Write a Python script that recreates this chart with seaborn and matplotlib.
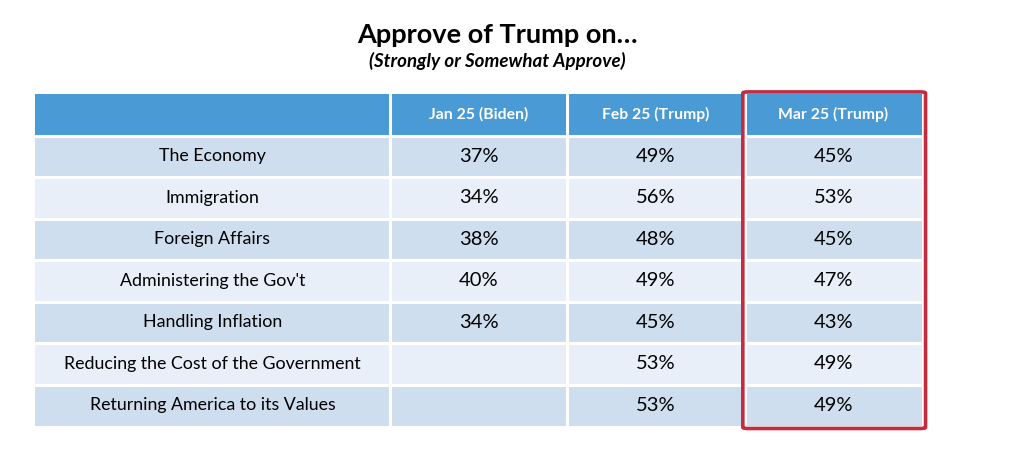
import numpy as np
import matplotlib
matplotlib.use("Agg")
import matplotlib.pyplot as plt
from matplotlib.colors import ListedColormap
from matplotlib.patches import FancyBboxPatch
import seaborn as sns

topics = ["The Economy", "Immigration", "Foreign Affairs", "Administering the Gov't",
          "Handling Inflation", "Reducing the Cost of the Government",
          "Returning America to its Values"]
periods = ["Jan 25 (Biden)", "Feb 25 (Trump)", "Mar 25 (Trump)"]
jan = [37, 34, 38, 40, 34, None, None]
feb = [49, 56, 48, 49, 45, 53, 53]
mar = [45, 53, 45, 47, 43, 49, 49]

sns.set_theme(style="white")
plt.rcParams['font.family'] = ['Lato', 'DejaVu Sans']

header_c = "#4A9BD5"
dark_c = "#CFDEEF"
light_c = "#E9EFF8"

# grid of 8 rows x 5 unit columns (topic column spans two units)
n = len(topics)
colors = np.zeros((n + 1, 5))
colors[0, :] = 2
for i in range(n):
    colors[i + 1, :] = 0 if i % 2 == 0 else 1

fig = plt.figure(figsize=(10.24, 4.54), dpi=100)
ax = fig.add_axes([35 / 1024, 1 - 426 / 454, 887 / 1024, 332 / 454])
sns.heatmap(colors, cmap=ListedColormap([dark_c, light_c, header_c]), vmin=0, vmax=2,
            cbar=False, ax=ax, linewidths=0)
ax.set_xticks([])
ax.set_yticks([])

# white gaps between cells
for x in [2, 3, 4]:
    ax.axvline(x, color="white", lw=2.2)
for y in range(1, n + 1):
    ax.axhline(y, color="white", lw=2.2)

# header
for j, p in enumerate(periods):
    ax.text(2.5 + j, 0.5, p, ha="center", va="center", color="white",
            fontsize=11.3, fontweight="bold")

cols = [jan, feb, mar]
for i, t in enumerate(topics):
    ax.text(1.0, i + 1.5, t, ha="center", va="center", color="black", fontsize=12.8)
    for j, c in enumerate(cols):
        v = c[i]
        if v is None:
            continue
        ax.text(2.5 + j, i + 1.5, f"{v}%", ha="center", va="center",
                color="black", fontsize=14.5)

# red highlight around the latest month
box = FancyBboxPatch((3.99, -0.05), 1.03, n + 1.11, boxstyle="round,pad=0,rounding_size=0.03",
                     fill=False, edgecolor="#C52B3F", lw=2.6, clip_on=False, zorder=5)
ax.add_patch(box)

fig.text(497 / 1024, 1 - 35 / 454, "Approve of Trump on…", ha="center", va="center",
         fontsize=19.5, fontweight="bold", color="black")
fig.text(497 / 1024, 1 - 61 / 454, "(Strongly or Somewhat Approve)", ha="center", va="center",
         fontsize=13.5, fontweight="bold", fontstyle="italic", color="black")

fig.savefig("out.png", dpi=100)
